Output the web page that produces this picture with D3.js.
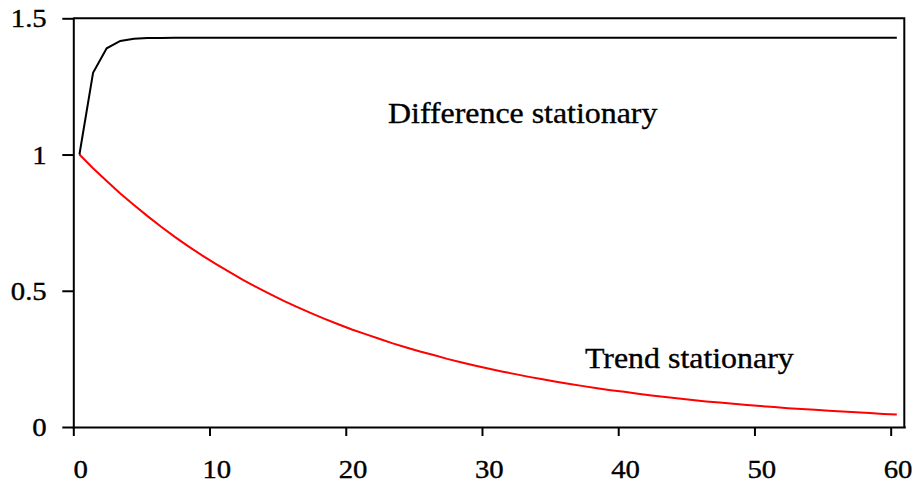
<!DOCTYPE html>
<html>
<head>
<meta charset="utf-8">
<script src="https://cdn.jsdelivr.net/npm/d3@7"></script>
<style>
  body { margin: 0; background: #fff; }
  text { font-family: "Liberation Serif", "Times New Roman", serif; fill: #000; stroke: #000; stroke-width: 0.35px; }
</style>
</head>
<body>
<div id="chart"></div>
<script>
// impulse responses, one value per period 0..60
var periods = d3.range(0, 61);
var differenceStationary = [1, 1.3, 1.39, 1.417, 1.425, 1.428, 1.428, 1.429, 1.429, 1.429,
  1.429, 1.429, 1.429, 1.429, 1.429, 1.429, 1.429, 1.429, 1.429, 1.429,
  1.429, 1.429, 1.429, 1.429, 1.429, 1.429, 1.429, 1.429, 1.429, 1.429,
  1.429, 1.429, 1.429, 1.429, 1.429, 1.429, 1.429, 1.429, 1.429, 1.429,
  1.429, 1.429, 1.429, 1.429, 1.429, 1.429, 1.429, 1.429, 1.429, 1.429,
  1.429, 1.429, 1.429, 1.429, 1.429, 1.429, 1.429, 1.429, 1.429, 1.429, 1.429];
var trendStationary = [1, 0.95, 0.903, 0.857, 0.815, 0.774, 0.735, 0.698, 0.663, 0.630,
  0.599, 0.569, 0.540, 0.513, 0.488, 0.463, 0.440, 0.418, 0.397, 0.377,
  0.358, 0.341, 0.324, 0.307, 0.292, 0.277, 0.264, 0.250, 0.238, 0.226,
  0.215, 0.204, 0.194, 0.184, 0.175, 0.166, 0.158, 0.150, 0.142, 0.135,
  0.129, 0.122, 0.116, 0.110, 0.105, 0.099, 0.094, 0.090, 0.085, 0.081,
  0.077, 0.073, 0.069, 0.066, 0.063, 0.060, 0.057, 0.054, 0.051, 0.048, 0.046];
var xTicks = [0, 10, 20, 30, 40, 50, 60];
var yTicks = [0, 0.5, 1, 1.5];

var margin = {top: 18.3, right: 11.7, bottom: 57, left: 73.3},
    width = 916 - margin.left - margin.right,
    height = 484 - margin.top - margin.bottom;

var svg = d3.select("#chart").append("svg")
    .attr("width", 916)
    .attr("height", 484);

var g = svg.append("g").attr("transform", "translate(" + margin.left + "," + margin.top + ")");

// periods sit in the middle of each category slot
var catOffset = 0.45;
var x = d3.scaleLinear().domain([0, 61]).range([0, width]);
var y = d3.scaleLinear().domain([0, 1.5]).range([height, 0]);

// y axis
var yAxis = g.append("g")
    .call(d3.axisLeft(y).tickValues(yTicks).tickSize(11).tickSizeOuter(0).tickFormat(d3.format("")));
yAxis.selectAll("text")
    .attr("x", 0).attr("dy", "0.34em")
    .attr("transform", "translate(-26.6,0) scale(1.15,1)")
    .style("font-size", "25px");

// x axis
var xAxis = g.append("g")
    .attr("transform", "translate(0," + height + ")")
    .call(d3.axisBottom(x).tickValues(xTicks).tickSize(9).tickSizeOuter(0));
xAxis.selectAll("text")
    .attr("y", 0).attr("dy", 0)
    .attr("transform", "translate(" + (x(catOffset) + 0.7) + ",51) scale(1.15,1)")
    .style("font-size", "25px");

g.selectAll(".domain, .tick line").attr("stroke", "#000").attr("stroke-width", 2);
g.selectAll(".domain").attr("stroke-linecap", "square");

// top and right frame
g.append("path")
    .attr("d", "M" + x(0) + "," + y(1.5) + "H" + x(61) + "V" + y(0))
    .attr("fill", "none")
    .attr("stroke", "#000")
    .attr("stroke-width", 2);

var line = d3.line()
    .x(function(d, i) { return x(periods[i] + catOffset); })
    .y(function(d) { return y(d); });

g.append("path")
    .datum(trendStationary)
    .attr("d", line)
    .attr("fill", "none")
    .attr("stroke", "#ff0000")
    .attr("stroke-width", 2);

g.append("path")
    .datum(differenceStationary)
    .attr("d", line)
    .attr("fill", "none")
    .attr("stroke", "#000")
    .attr("stroke-width", 2);

// series labels
svg.append("text")
    .attr("transform", "translate(388,122.5) scale(1.1,1)")
    .style("font-size", "29px")
    .text("Difference stationary");

svg.append("text")
    .attr("transform", "translate(585,368) scale(1.1,1)")
    .style("font-size", "29px")
    .text("Trend stationary");
</script>
</body>
</html>
